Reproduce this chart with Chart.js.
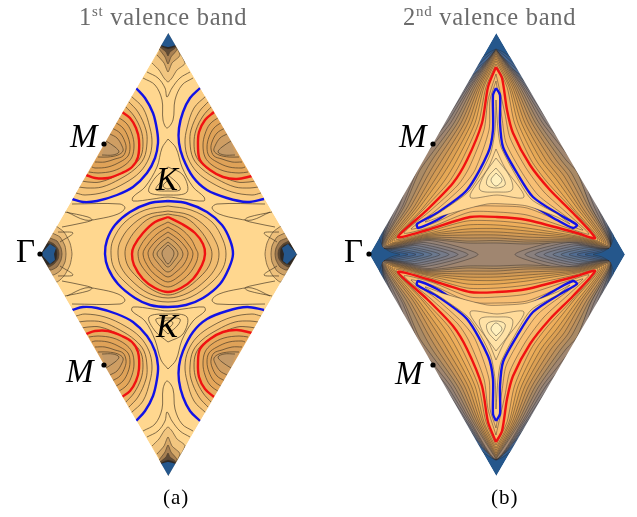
<!DOCTYPE html>
<html><head><meta charset="utf-8">
<style>
html,body{margin:0;padding:0;background:#fff;width:637px;height:517px;overflow:hidden}
#wrap{position:relative;width:637px;height:517px}
canvas{position:absolute;left:0;top:0}
.t{position:absolute;white-space:nowrap;font-family:"Liberation Serif",serif;line-height:1;color:#000}
.g{color:#6b6b6b;font-size:24.5px;letter-spacing:.7px}
.g sup{font-size:15px;line-height:0;vertical-align:baseline;position:relative;top:-9px}
.i{font-style:italic;font-size:33px}
</style>
<script src="https://cdn.jsdelivr.net/npm/chart.js@4"></script>
</head><body><div id="wrap"><canvas id="c" width="637" height="517"></canvas>
<div class="t g" style="left:79px;top:5px">1<sup>st</sup> valence band</div>
<div class="t g" style="left:403px;top:5px">2<sup>nd</sup> valence band</div>
<div class="t i" style="left:70px;top:120px">M</div>
<div class="t i" style="left:66px;top:355px">M</div>
<div class="t i" style="left:399px;top:120px">M</div>
<div class="t i" style="left:395px;top:357px">M</div>
<div class="t i" style="left:156px;top:163px">K</div>
<div class="t i" style="left:156px;top:310px">K</div>
<div class="t" style="left:16px;top:235px;font-size:33px">Γ</div>
<div class="t" style="left:344px;top:235px;font-size:33px">Γ</div>
<div class="t" style="left:163px;top:487px;font-size:21px;letter-spacing:1px">(a)</div>
<div class="t" style="left:491px;top:487px;font-size:21px;letter-spacing:1px">(b)</div>
</div>
<script>
// ---------- panel (a): 1st valence band ----------
const aBase=[[168.3,33],[297,254.5],[168.3,476],[40.5,254.5]];
const aTop3=[[168,33],[185,63],[177,70],[172,78],[168,82],[164,78],[159,70],[152,63]];
const aTop4=[[168,33],[180,55],[172,63],[168,72],[164,63],[157,55]];
const aTop5=[[168,33],[177,49],[171,57],[168,64],[165,57],[159,49]];
const aTop6=[[168,33],[176,47],[170,52],[168,56],[166,52],[160,47]];
const aTop7=[[168,33],[175.5,46],[168,49],[160.5,46]];
const aTopB=[[168.3,33],[175.5,45],[168,47],[161,45]];
const aBot3=[[168,476],[185,446],[177,439],[172,431],[168,427],[164,431],[159,439],[152,446]];
const aBot4=[[168,476],[180,454],[172,446],[168,437],[164,446],[157,454]];
const aBot5=[[168,476],[177,460],[171,452],[168,445],[165,452],[159,460]];
const aBot6=[[168,476],[176,462],[170,457],[168,453],[166,457],[160,462]];
const aBot7=[[168,476],[175.5,463],[168,460],[160.5,463]];
const aBotB=[[168.3,476],[175.5,464],[168,462],[161,464]];
const aL1=[[56,226],[64,232],[70,243],[72,254],[70,265],[64,276],[56,282],[40,254]];
const aL2=[[52,233],[60,237],[65,246],[66,254],[65,262],[60,271],[52,275],[40,254]];
const aL3=[[50,238],[57,241],[61,248],[62,254],[61,260],[57,267],[50,270],[40,254]];
const aL4=[[48,241],[54,244],[58,249],[59,254],[58,259],[54,264],[48,267],[40,254]];
const aL5=[[47,243],[53,245],[56.5,249],[57,254],[56.5,259],[53,263],[47,265],[40,254]];
const aLB=[[41,254],[50,244],[56,248],[54,254],[55,260],[50,264]];
const aR1=[[281,226],[273,232],[267,243],[265,254],[267,265],[273,276],[281,282],[297,254]];
const aR2=[[285,233],[277,237],[272,246],[271,254],[272,262],[277,271],[285,275],[297,254]];
const aR3=[[287,238],[280,241],[276,248],[275,254],[276,260],[280,267],[287,270],[297,254]];
const aR4=[[289,241],[283,244],[279,249],[278,254],[279,259],[283,264],[289,267],[297,254]];
const aR5=[[290,243],[284,245],[280.5,249],[280,254],[280.5,259],[284,263],[290,265],[297,254]];
const aRB=[[297,254],[288,244],[282,248],[284,254],[283,261],[287,264]];
// lobes: blue / red curves and rings
const tlBlue=[[136,88],[145,98],[153,113],[157,130],[158,143],[155,158],[147,173],[133,187],[117,195],[97,201],[83,202],[72,199]];
const tlA1=[[131,96],[143,108],[150,128],[152,143],[149,158],[140,172],[125,183],[105,192],[85,195],[76,193]];
const tlA2=[[128,101],[138,112],[146,130],[147,143],[144,158],[135,169],[120,179],[102,187],[87,188],[79,187]];
const tlA3=[[125,106],[134,116],[141,130],[143,143],[141,156],[133,166],[118,175],[100,182],[88,182],[82,181]];
const tlRed=[[122,112],[130,118],[136,128],[139,140],[138,157],[132,167],[122,173],[108,178],[95,178],[86,175]];
const tlA4=[[118,117],[127,124],[132,134],[134,145],[132,157],[125,165],[113,171],[98,173],[89,172]];
const tlA5=[[115,122],[123,128],[128,137],[130,147],[128,156],[120,162],[108,167],[95,168],[92,167]];
const tlA6=[[112,128],[120,133],[125,142],[126,149],[123,156],[115,159],[105,162],[95,162]];
const tlA7=[[110,134],[117,138],[122,146],[123,151],[118,155],[108,157],[98,157]];
const tlA8=[[106,141],[115,147],[119,152],[113,155],[102,155]];
const trBlue=[[200,88],[190,98],[183,112],[179,128],[179,143],[183,158],[193,177],[207,190],[227,198],[247,202],[264,199]];
const trA1=[[206,96],[194,108],[187,128],[185,143],[188,158],[197,172],[212,183],[232,192],[252,195],[261,193]];
const trA2=[[209,101],[199,112],[191,130],[190,143],[193,158],[202,169],[217,179],[235,187],[250,188],[258,187]];
const trA3=[[212,106],[203,116],[196,130],[194,143],[196,156],[204,166],[219,175],[237,182],[249,182],[255,181]];
const trRed=[[214,112],[205,120],[199,132],[198,147],[200,160],[210,170],[223,177],[237,179],[252,176]];
const trA4=[[219,117],[210,124],[205,134],[203,145],[205,157],[212,165],[224,171],[239,173],[248,172]];
const trA5=[[222,122],[214,128],[209,137],[207,147],[209,156],[217,162],[229,167],[242,168],[245,167]];
const trA6=[[225,128],[217,133],[212,142],[211,149],[214,156],[222,159],[232,162],[242,162]];
const trA7=[[227,134],[220,138],[215,146],[214,151],[219,155],[229,157],[239,157]];
const trA8=[[231,141],[222,147],[218,152],[224,155],[235,155]];
const blBlue=[[136,421],[145,411],[153,396],[157,379],[158,366],[155,351],[147,336],[133,322],[117,314],[97,308],[83,307],[72,310]];
const blA1=[[131,413],[143,401],[150,381],[152,366],[149,351],[140,337],[125,326],[105,317],[85,314],[76,316]];
const blA2=[[128,408],[138,397],[146,379],[147,366],[144,351],[135,340],[120,330],[102,322],[87,321],[79,322]];
const blA3=[[125,403],[134,393],[141,379],[143,366],[141,353],[133,343],[118,334],[100,327],[88,327],[82,328]];
const blRed=[[122,397],[130,391],[136,381],[139,369],[138,352],[132,342],[122,336],[108,331],[95,331],[86,334]];
const blA4=[[118,392],[127,385],[132,375],[134,364],[132,352],[125,344],[113,338],[98,336],[89,337]];
const blA5=[[115,387],[123,381],[128,372],[130,362],[128,353],[120,347],[108,342],[95,341],[92,342]];
const blA6=[[112,381],[120,376],[125,367],[126,360],[123,353],[115,350],[105,347],[95,347]];
const blA7=[[110,375],[117,371],[122,363],[123,358],[118,354],[108,352],[98,352]];
const blA8=[[106,368],[115,362],[119,357],[113,354],[102,354]];
const brBlue=[[200,421],[190,411],[183,397],[179,381],[179,366],[183,351],[193,332],[207,319],[227,311],[247,307],[264,310]];
const brA1=[[206,413],[194,401],[187,381],[185,366],[188,351],[197,337],[212,326],[232,317],[252,314],[261,316]];
const brA2=[[209,408],[199,397],[191,379],[190,366],[193,351],[202,340],[217,330],[235,322],[250,321],[258,322]];
const brA3=[[212,403],[203,393],[196,379],[194,366],[196,353],[204,343],[219,334],[237,327],[249,327],[255,328]];
const brRed=[[214,397],[205,389],[199,377],[198,362],[200,349],[210,339],[223,332],[237,330],[252,333]];
const brA4=[[219,392],[210,385],[205,375],[203,364],[205,352],[212,344],[224,338],[239,336],[248,337]];
const brA5=[[222,387],[214,381],[209,372],[207,362],[209,353],[217,347],[229,342],[242,341],[245,342]];
const brA6=[[225,381],[217,376],[212,367],[211,360],[214,353],[222,350],[232,347],[242,347]];
const brA7=[[227,375],[220,371],[215,363],[214,358],[219,354],[229,352],[239,352]];
const brA8=[[231,368],[222,362],[218,357],[224,354],[235,354]];
// centre rings
const cBlue=[[168,201],[150,203],[130,212],[115,225],[107,240],[105,254],[108,268],[118,284],[135,298],[150,305],[168,307],[186,305],[203,298],[220,284],[229,268],[233,254],[230,240],[222,225],[207,212],[186,203]];
const cC1=[[168,206],[145,210],[125,222],[113,240],[111,254],[114,268],[125,282],[145,297],[168,302],[191,297],[212,282],[223,268],[226,254],[223,240],[212,222],[191,210]];
const cC2=[[168,211],[147,215],[130,227],[120,242],[118,254],[121,267],[131,280],[148,293],[168,298],[188,293],[206,280],[216,267],[219,254],[216,242],[206,227],[189,215]];
const cC3=[[168,214],[150,218],[136,230],[127,244],[125,254],[128,266],[137,277],[151,289],[168,295],[185,289],[200,277],[209,266],[212,254],[209,244],[200,230],[186,218]];
const cRed=[[168,217],[155,222],[143,233],[134,246],[132,254],[134,265],[143,279],[155,288],[168,292],[181,288],[193,279],[202,265],[205,254],[203,244],[195,233],[182,224]];
const cC4=[[168,222],[155,229],[145,239],[139,249],[138,254],[140,263],[148,274],[158,283],[168,287],[178,283],[189,274],[196,263],[198,254],[196,249],[191,239],[181,229]];
const cC5=[[168,227],[157,234],[148,244],[143,254],[149,268],[158,277],[168,282],[178,277],[187,268],[193,254],[188,244],[179,234]];
const cC6=[[168,232],[158,239],[150,248],[148,254],[152,264],[160,272],[168,277],[176,272],[184,264],[188,254],[186,248],[178,239]];
const cC7=[[168,237],[159,244],[153,254],[158,263],[168,272],[178,263],[183,254],[177,244]];
const cC8=[[168,242],[161,248],[157,254],[162,261],[168,267],[174,261],[178,254],[175,248]];
const cC9=[[168,245],[163,250],[162,254],[164,259],[168,264],[172,259],[174,254],[173,250]];
// K triangles and loose contour lines
const kU1=[[168,139],[162,148],[157,167],[145,187],[133,197],[133,201],[153,199],[168,197],[183,199],[204,201],[204,197],[193,187],[182,167],[176,148]];
const kU2=[[168,167],[155,178],[149,192],[168,195],[187,192],[183,175]];
const kU3=[[168,175],[158,185],[156,190],[168,191],[180,190],[178,184]];
const kU4=[[168,180],[163,186],[168,189],[173,186]];
const kD1=[[168,369],[161,360],[155,340],[145,321],[132,311],[133,307],[153,309],[168,311],[183,309],[204,307],[205,311],[193,321],[182,340],[176,360]];
const kD2=[[168,342],[155,331],[149,317],[168,314],[187,317],[183,334]];
const kD3=[[168,334],[158,324],[156,319],[168,318],[180,319],[178,325]];
const kD4=[[168,329],[163,323],[168,320],[173,323]];
const tT1=[[143,78],[155,85],[162,100],[163,120],[167,128],[173,120],[175,100],[182,85],[193,78]];
const tT2=[[147,72],[158,78],[165,88],[167,97],[172,88],[180,78],[190,72]];
const bT1=[[143,431],[155,424],[162,409],[163,389],[167,381],[173,389],[175,409],[182,424],[193,431]];
const bT2=[[147,437],[158,431],[165,421],[167,412],[172,421],[180,431],[190,437]];
const gUL1=[[72,204],[120,204],[125,208],[118,214],[98,219],[85,220],[67,212]];
const gUL2=[[65,212],[88,217],[92,220],[82,223],[62,227]];
const gUL3=[[58,232],[73,233],[60,242]];
const gUR1=[[265,204],[217,204],[212,208],[219,214],[239,219],[252,220],[270,212]];
const gUR2=[[272,212],[249,217],[245,220],[255,223],[275,227]];
const gUR3=[[279,232],[264,233],[277,242]];
const gDL1=[[72,304],[120,304],[125,300],[118,294],[98,289],[85,288],[67,296]];
const gDL2=[[65,296],[88,291],[92,288],[82,285],[62,281]];
const gDL3=[[58,276],[73,275],[60,266]];
const gDR1=[[265,304],[217,304],[212,300],[219,294],[239,289],[252,288],[270,296]];
const gDR2=[[272,296],[249,291],[245,288],[255,285],[275,281]];
const gDR3=[[279,276],[264,275],[277,266]];
// ---------- panel (b): 2nd valence band ----------
const bBase=[[496.3,33],[625,254.5],[496.3,476],[369.5,254.5]];
const u18=[[496,49],[503,52],[514,60],[623,160],[614,235],[610,247],[602,252],[593,254.5],[602,257],[610,262],[614,274],[623,349],[514,449],[503,457],[496,460],[490,457],[479,449],[370,349],[379,274],[383,262],[391,257],[400,254.5],[391,252],[383,247],[379,235],[370,160],[479,60],[490,52]];
const u17=[[496,49.2],[505,56],[516,66],[618,160],[612,230],[610,247],[598,251.5],[585,254.5],[598,257.5],[610,262],[612,279],[618,349],[516,443],[505,453],[496,459.8],[488,453],[477,443],[375,349],[382,279],[383,262],[395,257.5],[408,254.5],[395,251.5],[383,247],[382,230],[375,160],[477,66],[488,56]];
const u16=[[496,49.4],[506,60],[520,72],[613,160],[610,226],[610,247],[594,250.5],[577,254.5],[594,258.5],[610,262],[610,283],[613,349],[520,437],[506,449],[496,459.6],[487,449],[473,437],[380,349],[384,283],[383,262],[399,258.5],[416,254.5],[399,250.5],[383,247],[384,226],[380,160],[473,72],[487,60]];
const u15=[[496,49.6],[508,65],[524,78],[608,160],[608,222],[610,247],[590,249.5],[569,254.5],[590,259.5],[610,262],[608,287],[608,349],[524,431],[508,444],[496,459.4],[485,444],[469,431],[385,349],[386,287],[383,262],[403,259.5],[424,254.5],[403,249.5],[383,247],[386,222],[385,160],[469,78],[485,65]];
const u14=[[496,49.8],[509,68],[527,83],[603,160],[604,216],[610,247],[586,248],[561,254.5],[586,261],[610,262],[604,293],[603,349],[527,426],[509,441],[496,459.2],[484,441],[466,426],[390,349],[390,293],[383,262],[407,261],[432,254.5],[407,248],[383,247],[390,216],[390,160],[466,83],[484,68]];
const u13=[[496,50],[529,87],[557,123],[591,160],[601,202],[610,247],[582,247],[553,254.5],[582,262],[610,262],[601,307],[591,349],[557,386],[529,422],[496,459],[464,422],[436,386],[402,349],[392,307],[383,262],[411,262],[440,254.5],[411,247],[383,247],[392,202],[402,160],[436,123],[464,87]];
const u12=[[496,50],[527,87],[553,123],[586,160],[598,203],[610,247],[577,245.5],[544,254.5],[577,263.5],[610,262],[598,306],[586,349],[553,386],[527,422],[496,459],[466,422],[440,386],[407,349],[395,306],[383,262],[416,263.5],[449,254.5],[416,245.5],[383,247],[395,203],[407,160],[440,123],[466,87]];
const u11=[[496,50],[525.4,87],[549.5,123],[581,160],[596,203],[610,247],[573,244],[535,254.5],[573,265],[610,262],[596,306],[581,349],[549.5,386],[525.4,422],[496,459],[467.6,422],[443.5,386],[412,349],[397,306],[383,262],[420,265],[458,254.5],[420,244],[383,247],[397,203],[412,160],[443.5,123],[467.6,87]];
const u10=[[496,50],[523.5,87],[546,123],[576,160],[593,204],[610,247],[568,242.5],[525,254.5],[568,266.5],[610,262],[593,305],[576,349],[546,386],[523.5,422],[496,459],[469.5,422],[447,386],[417,349],[400,305],[383,262],[425,266.5],[468,254.5],[425,242.5],[383,247],[400,204],[417,160],[447,123],[469.5,87]];
const u9=[[496,50],[522,87],[542.5,123],[571,160],[590,205],[610,247],[563,240.5],[515,254.5],[563,268.5],[610,262],[590,304],[571,349],[542.5,386],[522,422],[496,459],[471,422],[450.5,386],[422,349],[403,304],[383,262],[430,268.5],[478,254.5],[430,240.5],[383,247],[403,205],[422,160],[450.5,123],[471,87]];
const up8=[[496,50],[520,87],[539,123],[566,160],[577,172],[590,205],[610,246],[577,242],[527,244],[497,243],[467,243],[427,239.5],[384,246],[405,205],[419,172],[427,160],[454,123],[473,87]];
const up7=[[496,51],[518,87],[535.5,123],[561,160],[572,174],[588,206],[609,245.5],[577,241],[527,242],[497,240.5],[467,241],[427,238.5],[385,245.5],[408,206],[424,174],[432,160],[457.5,123],[475,87]];
const up6=[[496,52.5],[516,87],[532,123],[556,160],[568,175],[585,206],[608,245],[577,240],[527,240],[497,238],[467,238],[427,237.5],[386,245],[411,206],[428,175],[437,160],[461,123],[477,87]];
const up5=[[496,54],[514.2,87],[528.5,123],[551,160],[564,176],[582,207],[606,244],[577,239],[527,237],[497,235],[467,235],[427,236.5],[388,244],[414,207],[432,176],[442,160],[464.5,123],[478.8,87]];
const up4=[[496,56],[512.4,87],[525,123],[546,160],[560,178],[580,208],[604,243],[577,238],[527,234],[497,232],[467,232],[427,235.5],[390,243],[416,208],[436,178],[447,160],[468,123],[480.6,87]];
const up3=[[496,58.5],[510.5,87],[521.5,123],[541,160],[556,179],[577,208],[602,242],[577,237],[527,231],[497,228.5],[467,229],[427,234.5],[392,242],[419,208],[440,179],[452,160],[471.5,123],[482.5,87]];
const up2=[[496,61],[509,87],[518,123],[536,160],[551,180],[574,209],[600,241],[577,236],[527,228],[497,225],[467,225],[427,233.5],[394,240.5],[422,209],[445,180],[457,160],[475,123],[484,87]];
const up1=[[496,64],[507,87],[514.5,123],[531,160],[547,182],[572,209],[598,240],[577,234.5],[527,224],[497,221],[467,221],[427,232],[396,239],[424,209],[449,182],[462,160],[478.5,123],[486,87]];
const dn8=[[496,459],[520,422],[539,386],[566,349],[577,337],[590,304],[610,263],[577,267],[527,265],[497,266],[467,266],[427,269.5],[384,263],[405,304],[419,337],[427,349],[454,386],[473,422]];
const dn7=[[496,458],[518,422],[535.5,386],[561,349],[572,335],[588,303],[609,263.5],[577,268],[527,267],[497,268.5],[467,268],[427,270.5],[385,263.5],[408,303],[424,335],[432,349],[457.5,386],[475,422]];
const dn6=[[496,456.5],[516,422],[532,386],[556,349],[568,334],[585,303],[608,264],[577,269],[527,269],[497,271],[467,271],[427,271.5],[386,264],[411,303],[428,334],[437,349],[461,386],[477,422]];
const dn5=[[496,455],[514.2,422],[528.5,386],[551,349],[564,333],[582,302],[606,265],[577,270],[527,272],[497,274],[467,274],[427,272.5],[388,265],[414,302],[432,333],[442,349],[464.5,386],[478.8,422]];
const dn4=[[496,453],[512.4,422],[525,386],[546,349],[560,331],[580,301],[604,266],[577,271],[527,275],[497,277],[467,277],[427,273.5],[390,266],[416,301],[436,331],[447,349],[468,386],[480.6,422]];
const dn3=[[496,450.5],[510.5,422],[521.5,386],[541,349],[556,330],[577,301],[602,267],[577,272],[527,278],[497,280.5],[467,280],[427,274.5],[392,267],[419,301],[440,330],[452,349],[471.5,386],[482.5,422]];
const dn2=[[496,448],[509,422],[518,386],[536,349],[551,329],[574,300],[600,268],[577,273],[527,281],[497,284],[467,284],[427,275.5],[394,268.5],[422,300],[445,329],[457,349],[475,386],[484,422]];
const dn1=[[496,445],[507,422],[514.5,386],[531,349],[547,327],[572,300],[598,269],[577,274.5],[527,285],[497,288],[467,288],[427,277],[396,270],[424,300],[449,327],[462,349],[478.5,386],[486,422]];
const upRed=[[496,67],[502,78],[507,110],[513,133],[530,165],[550,190],[573,213],[595,238],[577,233],[527,220],[497,217],[470,217],[427,230],[398,237],[427,210],[453,183],[467,160],[482,123],[488,87]];
const upI1=[[496,74],[505,114],[510,138],[526,168],[544,192],[568,214],[589,234],[571,229],[527,215],[497,212],[470,212],[431,227],[404,233],[430,211],[458,185],[469,168],[484,130],[488,100]];
const upI2=[[496,81],[502,118],[506,143],[521,171],[538,195],[564,215],[583,230],[566,224],[527,208],[497,206],[470,207],[434,223],[411,229],[434,212],[462,187],[475,170],[489,130],[490,100]];
const upBlue=[[496,88],[500,95],[500,123],[503,147],[517,173],[533,197],[560,215],[577,225],[573,228],[557,220],[527,203],[505,201],[487,201],[457,208],[437,220],[418,228],[417,224],[437,213],[467,190],[488,153],[493,130],[493,95]];
const upJ=[[496,100],[498,130],[501,147],[515,174],[531,199],[557,214],[570,224],[557,217],[527,206],[505,204],[487,204],[445,215],[425,222],[445,209],[470,190],[490,155],[495,130]];
const upK1=[[496,149],[488,168],[470,197],[497,195],[524,197],[505,168]];
const upK2=[[496,158],[483,177],[480,190],[497,192],[512,190],[510,177]];
const upK3=[[496,168],[488,177],[487,185],[496,188],[505,185],[503,177]];
const upK4=[[496,173],[491,180],[496,186],[502,180]];
const dnRed=[[496,442],[502,431],[507,399],[513,376],[530,344],[550,319],[573,296],[595,271],[577,276],[527,289],[497,292],[470,292],[427,279],[398,272],[427,299],[453,326],[467,349],[482,386],[488,422]];
const dnI1=[[496,435],[505,395],[510,371],[526,341],[544,317],[568,295],[589,275],[571,280],[527,294],[497,297],[470,297],[431,282],[404,276],[430,298],[458,324],[469,341],[484,379],[488,409]];
const dnI2=[[496,428],[502,391],[506,366],[521,338],[538,314],[564,294],[583,279],[566,285],[527,301],[497,303],[470,302],[434,286],[411,280],[434,297],[462,322],[475,339],[489,379],[490,409]];
const dnBlue=[[496,421],[500,414],[500,386],[503,362],[517,336],[533,312],[560,294],[577,284],[573,281],[557,289],[527,306],[505,308],[487,308],[457,301],[437,289],[418,281],[417,285],[437,296],[467,319],[488,356],[493,379],[493,414]];
const dnJ=[[496,409],[498,379],[501,362],[515,335],[531,310],[557,295],[570,285],[557,292],[527,303],[505,305],[487,305],[445,294],[425,287],[445,300],[470,319],[490,354],[495,379]];
const dnK1=[[496,360],[488,341],[470,312],[497,314],[524,312],[505,341]];
const dnK2=[[496,351],[483,332],[480,319],[497,317],[512,319],[510,332]];
const dnK3=[[496,341],[488,332],[487,324],[496,321],[505,324],[503,332]];
const dnK4=[[496,336],[491,329],[496,323],[502,329]];
// white surround outside both rhombi
const maskA1=[[168.3,33],[40.5,254.5],[5,254.5],[5,5],[168.3,5]];
const maskA2=[[168.3,33],[297,254.5],[330,254.5],[330,5],[168.3,5]];
const maskA3=[[168.3,476],[40.5,254.5],[5,254.5],[5,482],[168.3,482]];
const maskA4=[[168.3,476],[297,254.5],[330,254.5],[330,482],[168.3,482]];
const maskB1=[[496.3,33],[369.5,254.5],[335,254.5],[335,5],[496.3,5]];
const maskB2=[[496.3,33],[625,254.5],[636,254.5],[636,5],[496.3,5]];
const maskB3=[[496.3,476],[369.5,254.5],[335,254.5],[335,482],[496.3,482]];
const maskB4=[[496.3,476],[625,254.5],[636,254.5],[636,482],[496.3,482]];
const markers=[[104,144],[104,365],[40,254],[433,144],[433,365],[369,254]];

const LA='rgba(75,60,40,.78)',LB='rgba(45,42,40,.58)',BL='#1212e6',RD='#f01212',W='#ffffff',TB='#25578c';
const layers=[];
function add(p,fill,line,w,closed,tension){layers.push({p,fill,line,w,closed,tension:tension===undefined?0.3:tension});}
// panel (a) paint order
add(aBase,'#ffd78f',null,0,true,0);
[[aTop3,aTop4,aTop5,aTop6,aTop7],[aBot3,aBot4,aBot5,aBot6,aBot7]].forEach(g=>{
  ['#f2c680','#d6a868','#a88052','#5f4a36','#2d2825'].forEach((c,i)=>add(g[i],c,LA,.8,false,.2));
});
add(aTopB,TB,null,0,true,.1);add(aBotB,TB,null,0,true,.1);
[[aL1,aL2,aL3,aL4,aL5],[aR1,aR2,aR3,aR4,aR5]].forEach(g=>{
  ['#eec07b','#cfa368','#9c7850','#5f4a36','#2d2825'].forEach((c,i)=>add(g[i],c,LA,.8,false,.2));
});
add(aLB,TB,null,0,true,0);add(aRB,TB,null,0,true,0);
[tT1,tT2,bT1,bT2,gUL1,gUL2,gUL3,gUR1,gUR2,gUR3,gDL1,gDL2,gDL3,gDR1,gDR2,gDR3].forEach(p=>add(p,null,LA,.9,false,.35));
[kU1,kU2,kU3,kU4,kD1,kD2,kD3,kD4].forEach(p=>add(p,null,LA,.9,true,.35));
const lobeCols=['#fbcd83','#f6c57a','#f1bc70','#ecb366','#e8ac5f','#e4a65a','#dfa258','#d9a05c','#cf9e63','#c49a68'];
[[tlBlue,tlA1,tlA2,tlA3,tlRed,tlA4,tlA5,tlA6,tlA7,tlA8],[trBlue,trA1,trA2,trA3,trRed,trA4,trA5,trA6,trA7,trA8],
 [blBlue,blA1,blA2,blA3,blRed,blA4,blA5,blA6,blA7,blA8],[brBlue,brA1,brA2,brA3,brRed,brA4,brA5,brA6,brA7,brA8]].forEach(g=>{
  g.forEach((p,i)=>{ if(i===0)add(p,lobeCols[i],BL,2.4,false,.35); else if(i===4)add(p,lobeCols[i],RD,2.4,false,.35); else add(p,lobeCols[i],LA,.9,false,.35); });
});
const ringCols=['#fbcd83','#f6c57a','#f1bc70','#ecb366','#e8ac5f','#e4a65a','#dfa258','#d9a05c','#d2a060','#cb9d64','#c39a68'];
[cBlue,cC1,cC2,cC3,cRed,cC4,cC5,cC6,cC7,cC8,cC9].forEach((p,i)=>{
  if(i===0)add(p,ringCols[i],BL,2.4,true,.35); else if(i===4)add(p,ringCols[i],RD,2.4,true,.35); else add(p,ringCols[i],LA,.9,true,.35);
});
// panel (b) paint order
add(bBase,TB,null,0,true,0);
const lowLevels=[u18,u17,u16,u15,u14,u13,u12,u11,u10,u9];
['#355f90','#456692','#526d92','#5f7491','#6b798f','#757b8a','#7f7d85','#8a807e','#958377','#a08670'].forEach((c,i)=>add(lowLevels[i],c,LB,.75,true,.22));
const starCols=['#a98a66','#b98f5e','#c69458','#d29a54','#dca053','#e6a855','#eeae5b','#f3b363'];
[up8,up7,up6,up5,up4,up3,up2,up1].forEach((p,i)=>add(p,starCols[i],LB,.75,true,.25));
[dn8,dn7,dn6,dn5,dn4,dn3,dn2,dn1].forEach((p,i)=>add(p,starCols[i],LB,.75,true,.25));
[[upRed,upI1,upI2,upBlue,upJ,upK1,upK2,upK3,upK4],[dnRed,dnI1,dnI2,dnBlue,dnJ,dnK1,dnK2,dnK3,dnK4]].forEach(g=>{
  add(g[0],'#f5b96c',RD,2.4,true,.25);
  add(g[1],'#f8bf74',LB,.75,true,.25);
  add(g[2],'#fac57c',LB,.75,true,.25);
  add(g[3],'#fdcf88',BL,2.4,true,.25);
  add(g[4],'#ffd591',LB,.75,true,.25);
  add(g[5],'#ffdb9a',LB,.75,true,.3);
  add(g[6],'#ffe2a6',LB,.75,true,.35);
  add(g[7],'#ffe9b0',LB,.75,true,.35);
  add(g[8],'#fff0bd',LB,.75,true,.35);
});
[maskA1,maskA2,maskA3,maskA4,maskB1,maskB2,maskB3,maskB4].forEach(p=>add(p,W,null,0,true,0));

const datasets=layers.map(l=>{
  const pts=l.closed?l.p.concat([l.p[0]]):l.p;
  return {data:pts.map(q=>({x:q[0],y:q[1]})),showLine:true,pointRadius:0,pointHoverRadius:0,
    fill:l.fill?'shape':false,backgroundColor:l.fill||'transparent',
    borderColor:l.line||'transparent',borderWidth:l.line?l.w:0,tension:l.tension,clip:false};
});
datasets.push({data:markers.map(q=>({x:q[0],y:q[1]})),showLine:false,pointRadius:2.6,pointBackgroundColor:'#000',pointBorderWidth:0,clip:false});
datasets.reverse(); // Chart.js paints the first dataset last

new Chart(document.getElementById('c'),{type:'scatter',data:{datasets},options:{
  responsive:false,animation:false,devicePixelRatio:1,events:[],
  layout:{padding:0,autoPadding:false},
  plugins:{legend:{display:false},tooltip:{enabled:false},title:{display:false}},
  scales:{x:{type:'linear',min:0,max:637,display:false},y:{type:'linear',min:0,max:517,reverse:true,display:false}}
}});
</script></body></html>
